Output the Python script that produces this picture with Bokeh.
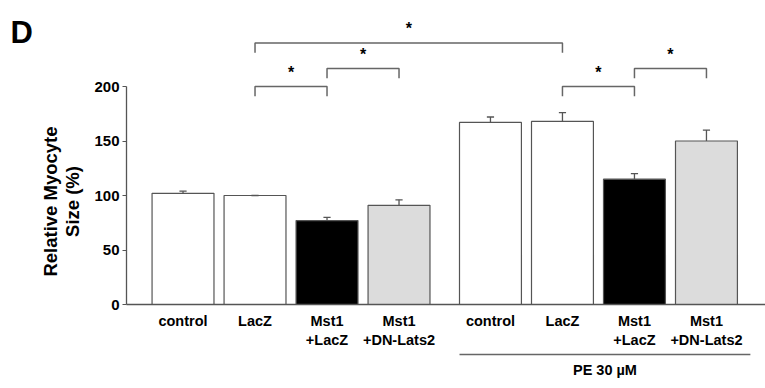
import math
from bokeh.plotting import figure
from bokeh.models import Range1d, FixedTicker, Label, ColumnDataSource
from bokeh.core.properties import value
from bokeh.embed import file_html
from bokeh.resources import INLINE

# ---- data ----
categories = ["control", "LacZ", "Mst1\n+LacZ", "Mst1\n+DN-Lats2"]
group_label = "PE 30 µM"
means = [102, 100, 77, 91, 167, 168, 115, 150]
errors = [2, 0, 3, 5, 5, 8, 5, 10]
bar_colors = ["white", "white", "black", "#dcdcdc"] * 2
# (bar a, bar b, bracket height)
comparisons = [(1, 5, 240), (1, 2, 200), (2, 3, 216.5), (5, 6, 200), (6, 7, 216.5)]
y_ticks = [0, 50, 100, 150, 200]
y_label_lines = ["Relative Myocyte", "Size (%)"]
panel_letter = "D"

# ---- layout ----
STEP = 100
GAP = 27
BAR_W = 86
positions = [i * STEP + GAP * (i // 4) for i in range(8)]
labels = categories * 2
AXIS_X = -78.5

FONT = "Liberation Sans"
GRAY = "#555555"

p = figure(width=765, height=388, x_range=Range1d(-253.5, 809), y_range=Range1d(-77.06, 278.9),
           output_backend="svg", toolbar_location=None, min_border=0,
           min_border_left=0, min_border_right=0, min_border_top=0, min_border_bottom=0)
p.outline_line_color = None
p.xgrid.grid_line_color = None
p.ygrid.grid_line_color = None
p.background_fill_color = "white"

src = ColumnDataSource(dict(x=positions, top=means, color=bar_colors,
                            etop=[m + e for m, e in zip(means, errors)]))
p.vbar(x="x", width=BAR_W, top="top", bottom=0, fill_color="color", line_color=GRAY,
       line_width=1.2, source=src)
p.segment(x0="x", y0="top", x1="x", y1="etop", line_color=GRAY, line_width=1.3, source=src)
cap = 5
p.segment(x0=[x - cap for x in positions], y0=src.data["etop"],
          x1=[x + cap for x in positions], y1=src.data["etop"], line_color=GRAY, line_width=1.3)

# significance brackets
drop = 9
xs, ys, sx, sy = [], [], [], []
for a, b, h in comparisons:
    xa, xb = positions[a], positions[b]
    xs.append([xa, xa, xb, xb])
    ys.append([h - drop, h, h, h - drop])
    sx.append((xa + xb) / 2)
    sy.append(h + 12.8)
p.multi_line(xs=xs, ys=ys, line_color="#666666", line_width=1.5)
p.text(x=sx, y=sy, text=["*"] * len(sx), text_align="center", text_baseline="alphabetic",
       text_font=value(FONT), text_font_style="bold", text_font_size="16px", text_color="black")

# axes (placed inside the frame at fixed locations)
yax = p.yaxis[0]
yax.fixed_location = AXIS_X
yax.ticker = FixedTicker(ticks=y_ticks)
yax.bounds = (0, 200)
yax.axis_line_color = GRAY
yax.axis_line_width = 1.3
yax.major_tick_line_color = GRAY
yax.major_tick_out = 4
yax.major_tick_in = 0
yax.minor_tick_line_color = None
yax.major_label_text_font = FONT
yax.major_label_text_font_style = "bold"
yax.major_label_text_font_size = "15px"
yax.major_label_text_color = "black"
yax.major_label_standoff = 3

xax = p.xaxis[0]
xax.fixed_location = 0
xax.bounds = (AXIS_X, 809)
xax.ticker = FixedTicker(ticks=positions)
xax.major_label_overrides = {x: lab for x, lab in zip(positions, labels)}
xax.axis_line_color = GRAY
xax.axis_line_width = 1.3
xax.major_tick_line_color = None
xax.minor_tick_line_color = None
xax.major_label_text_font = FONT
xax.major_label_text_font_style = "bold"
xax.major_label_text_font_size = "14.5px"
xax.major_label_text_color = "black"
xax.major_label_standoff = 2

# y-axis title (two rotated lines)
for lx, txt in zip([-184, -153.5], y_label_lines):
    p.add_layout(Label(x=lx, y=94.5, text=txt, angle=math.pi / 2, text_align="center",
                       text_baseline="middle", text_font=FONT, text_font_style="bold",
                       text_font_size="18.5px", text_color="black"))

# panel letter
p.add_layout(Label(x=-239.6, y=249.5, text=panel_letter, text_align="left",
                   text_baseline="alphabetic", text_font=FONT, text_font_style="bold",
                   text_font_size="31px", text_color="black"))

# PE group line and label
ls, le = positions[4] - BAR_W / 2, 788
p.segment(x0=[ls], y0=[-45.9], x1=[le], y1=[-45.9], line_color="#666666", line_width=1.5)
p.add_layout(Label(x=(ls + le) / 2, y=-60.5, text=group_label, text_align="center",
                   text_baseline="middle", text_font=FONT, text_font_style="bold",
                   text_font_size="14.5px", text_color="black"))

open("out.html", "w").write(file_html(p, INLINE))
